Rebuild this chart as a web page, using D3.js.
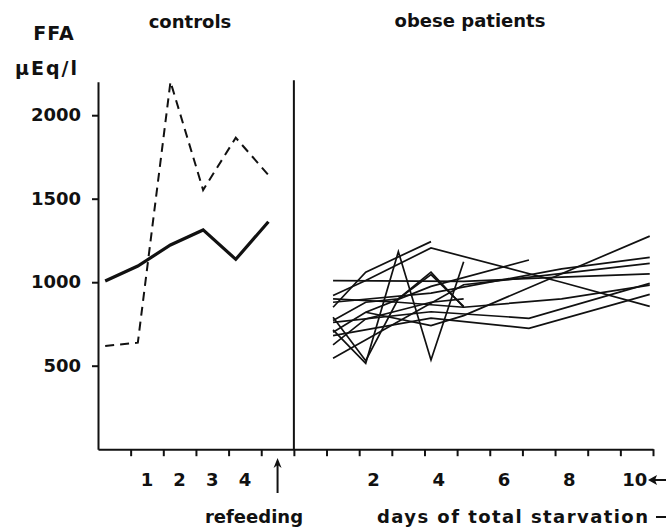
<!DOCTYPE html>
<html>
<head>
<meta charset="utf-8">
<script src="https://cdn.jsdelivr.net/npm/d3@7"></script>
<style>
  body { margin: 0; background: #fff; }
  text { font-family: "DejaVu Sans", sans-serif; font-weight: bold; fill: #111; }
</style>
</head>
<body>
<svg id="chart" width="666" height="532"></svg>
<script>
// values (FFA, µEq/l)
const yTicks = [500, 1000, 1500, 2000];
const controlDays = [0, 1, 2, 3, 4, 5];          // 5 = refeeding
const controlSolid = [1007, 1097, 1223, 1313, 1137, 1362];
const controlDashed = [618, 638, 2200, 1552, 1865, 1642];
const controlLabels = [1, 2, 3, 4];
const starvationLabels = [2, 4, 6, 8, 10];

// obese patients: [day of starvation, FFA]
const patientA = [[1, 1010], [5, 1005], [8, 1030], [10.7, 1050]];
const patientB = [[1, 850], [2, 1060], [4, 1243]];
const patientC = [[1, 920], [2, 1010], [4, 1205], [8, 1000], [10.7, 855]];
const patientD = [[1, 714], [2, 514], [3, 1183], [4, 534], [5, 1123]];
const patientE = [[1, 545], [5, 985], [10.7, 1113]];
const patientF = [[1, 625], [2, 780], [4, 880], [5, 900]];
const patientG = [[1, 790], [2, 530], [3, 900], [4, 1060], [5, 850]];
const patientH = [[1, 900], [3, 880], [5, 850], [8, 900], [10.7, 983]];
const patientI = [[1, 700], [2, 820], [4, 975], [7, 1133]];
const patientJ = [[1, 880], [4, 935], [8, 1080], [10.7, 1149]];
const patientK = [[2, 820], [4, 740], [5, 800], [10.7, 1276]];
const patientL = [[1, 760], [4, 823], [7, 784], [10.7, 993]];
const patientM = [[1, 680], [4, 785], [7, 724], [10.7, 927]];
const patientN = [[1, 770], [2, 880], [3, 900], [4, 1045], [5, 855]];
const patients = [patientA, patientB, patientC, patientD, patientE, patientF, patientG,
                  patientH, patientI, patientJ, patientK, patientL, patientM, patientN];

const svg = d3.select('#chart');

// one slot scale for both panels: controls occupy slots -1..5, patients 6..16
const x = d3.scaleLinear().domain([-1, 16]).range([98, 653]);
const y = d3.scaleLinear().domain([0, 2200]).range([449.2, 81.8]);
const ctrlPos = d => d - 0.78;
const patPos = d => 5.2 + d;

// axes
const yAxis = svg.append('g')
  .attr('transform', `translate(${x(-1)},0)`)
  .call(d3.axisLeft(y).tickValues(yTicks).tickFormat(d3.format('d'))
    .tickSize(6).tickSizeOuter(0).tickPadding(11));
yAxis.selectAll('text').attr('font-size', 18).style('font-family', null);
yAxis.selectAll('path, line').attr('stroke', '#111').attr('stroke-width', 2);

const xAxis = svg.append('g')
  .attr('transform', `translate(0,${y(0)})`)
  .call(d3.axisBottom(x).tickValues(d3.range(0, 17)).tickSize(7).tickSizeOuter(0).tickFormat(''));
xAxis.selectAll('path, line').attr('stroke', '#111').attr('stroke-width', 2);

// divider between panels
svg.append('line')
  .attr('x1', x(5)).attr('x2', x(5))
  .attr('y1', y(2210)).attr('y2', y(0))
  .attr('stroke', '#111').attr('stroke-width', 2);

// x labels
svg.selectAll('.clab').data(controlLabels).join('text')
  .attr('class', 'clab')
  .attr('x', d => x(d - 0.5)).attr('y', 486)
  .attr('text-anchor', 'middle').attr('font-size', 18)
  .text(d => d);
svg.selectAll('.slab').data(starvationLabels).join('text')
  .attr('class', 'slab')
  .attr('x', d => x(6 + d - 0.5) - 2).attr('y', 486)
  .attr('text-anchor', 'middle').attr('font-size', 18)
  .text(d => d);

// lines
const line = d3.line().x(d => x(d[0])).y(d => y(d[1]));

svg.selectAll('.patient').data(patients).join('path')
  .attr('class', 'patient')
  .attr('d', p => line(p.map(d => [patPos(d[0]), d[1]])))
  .attr('fill', 'none').attr('stroke', '#111').attr('stroke-width', 1.7);

svg.append('path')
  .attr('d', line(controlDays.map((d, i) => [ctrlPos(d), controlDashed[i]])))
  .attr('fill', 'none').attr('stroke', '#111').attr('stroke-width', 2)
  .attr('stroke-dasharray', '9,6');

svg.append('path')
  .attr('d', line(controlDays.map((d, i) => [ctrlPos(d), controlSolid[i]])))
  .attr('fill', 'none').attr('stroke', '#111').attr('stroke-width', 3.2);

// refeeding arrow (pointing up to the axis)
const ax = x(4.5);
svg.append('line')
  .attr('x1', ax).attr('x2', ax).attr('y1', 493).attr('y2', 464)
  .attr('stroke', '#111').attr('stroke-width', 2);
svg.append('path')
  .attr('d', `M${ax},458 L${ax - 4},468 L${ax},465 L${ax + 4},468 Z`)
  .attr('fill', '#111');

// bracket arrow at the right edge
svg.append('line')
  .attr('x1', 668).attr('x2', 654).attr('y1', 480).attr('y2', 480)
  .attr('stroke', '#111').attr('stroke-width', 2);
svg.append('path')
  .attr('d', 'M648,480 L657,475 L655,480 L657,485 Z')
  .attr('fill', '#111');
svg.append('line')
  .attr('x1', 656).attr('x2', 668).attr('y1', 517).attr('y2', 517)
  .attr('stroke', '#111').attr('stroke-width', 2);

// titles
svg.append('text').attr('x', 54).attr('y', 40).attr('text-anchor', 'middle')
  .attr('font-size', 19).attr('letter-spacing', 1).text('FFA');
svg.append('text').attr('x', 79).attr('y', 75).attr('text-anchor', 'end')
  .attr('font-size', 19).attr('letter-spacing', 2).text('μEq/l');
svg.append('text').attr('x', 190).attr('y', 28).attr('text-anchor', 'middle')
  .attr('font-size', 18).text('controls');
svg.append('text').attr('x', 470).attr('y', 27).attr('text-anchor', 'middle')
  .attr('font-size', 18).text('obese patients');
svg.append('text').attr('x', 254).attr('y', 523).attr('text-anchor', 'middle')
  .attr('font-size', 18).text('refeeding');
svg.append('text').attr('x', 377).attr('y', 523).attr('font-size', 18)
  .attr('textLength', 271).attr('lengthAdjust', 'spacing').text('days of total starvation');
</script>
</body>
</html>
